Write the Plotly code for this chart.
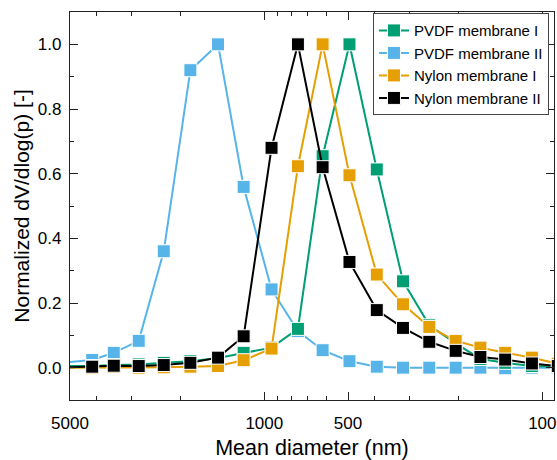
import plotly.graph_objects as go

diameter = [5400, 4160, 3480, 2830, 2300, 1845, 1467, 1187, 942, 757, 617, 494,
            394, 317, 255, 205, 167, 136, 109, 88]

pvdf_1 = [0.005, 0.005, 0.008, 0.010, 0.015, 0.020, 0.030, 0.046, 0.062, 0.120,
          0.654, 1.000, 0.613, 0.267, 0.131, 0.075, 0.027, 0.015, 0.005, 0.003]
pvdf_2 = [0.015, 0.024, 0.046, 0.083, 0.360, 0.920, 1.000, 0.559, 0.242, 0.113,
          0.054, 0.020, 0.003, 0.000, 0.000, 0.000, 0.000, -0.002, 0.000, 0.000]
nylon_1 = [0.000, 0.000, 0.002, 0.000, 0.001, 0.003, 0.005, 0.023, 0.059, 0.623,
           1.000, 0.595, 0.288, 0.196, 0.126, 0.083, 0.062, 0.046, 0.031, 0.012]
nylon_2 = [0.000, 0.003, 0.006, 0.005, 0.008, 0.015, 0.031, 0.097, 0.680, 1.000,
           0.620, 0.327, 0.178, 0.123, 0.080, 0.052, 0.033, 0.025, 0.013, 0.005]

x_tickvals = [5000, 1000, 500, 100]
x_ticktext = ["5000", "1000", "500", "100"]
x_minor = [4000, 3000, 2000, 900, 800, 700, 600, 400, 300, 200]
y_tickvals = [0.0, 0.2, 0.4, 0.6, 0.8, 1.0]
y_minor = [0.1, 0.3, 0.5, 0.7, 0.9]

series = [
    ("PVDF membrane II", pvdf_2, "#56B4E9", 2),
    ("PVDF membrane I", pvdf_1, "#009E73", 1),
    ("Nylon membrane I", nylon_1, "#E69F00", 3),
    ("Nylon membrane II", nylon_2, "#000000", 4),
]

FONT = "Liberation Sans, Arial, sans-serif"
AXC = "#222222"

fig = go.Figure()
for name, vals, color, rank in series:
    fig.add_trace(go.Scatter(
        x=diameter, y=vals, name=name, mode="lines+markers",
        line=dict(color=color, width=2),
        marker=dict(symbol="square", size=13, color=color,
                    line=dict(color="white", width=1)),
        legendrank=rank,
    ))

fig.update_xaxes(
    type="log", range=[3.699, 1.958],
    tickmode="array", tickvals=x_tickvals, ticktext=x_ticktext,
    showline=True, linecolor=AXC, linewidth=1.3, mirror="ticks",
    ticks="inside", ticklen=8, tickwidth=1.3, tickcolor=AXC,
    minor=dict(tickmode="array", tickvals=x_minor, ticks="inside", ticklen=4,
               tickwidth=1.3, tickcolor=AXC, showgrid=False),
    ticklabelstandoff=7,
    showgrid=False, zeroline=False,
    tickfont=dict(family=FONT, size=17, color="black"),
    title=dict(text="Mean diameter (nm)", font=dict(family=FONT, size=21.5, color="black"),
               standoff=12),
)
fig.update_yaxes(
    range=[-0.1, 1.1],
    tickmode="array", tickvals=y_tickvals, tickformat=".1f",
    showline=True, linecolor=AXC, linewidth=1.3, mirror="ticks",
    ticks="inside", ticklen=8, tickwidth=1.3, tickcolor=AXC,
    minor=dict(tickmode="array", tickvals=y_minor, ticks="inside", ticklen=4,
               tickwidth=1.3, tickcolor=AXC, showgrid=False),
    ticklabelstandoff=4,
    showgrid=False, zeroline=False,
    tickfont=dict(family=FONT, size=17, color="black"),
    title=dict(text="Normalized dV/dlog(p) [-]", font=dict(family=FONT, size=21, color="black"),
               standoff=2),
)

fig.update_layout(
    width=557, height=460,
    margin=dict(l=70, r=3, t=12, b=60, autoexpand=False),
    paper_bgcolor="white", plot_bgcolor="white",
    font=dict(family=FONT, color="black"),
    showlegend=True,
    legend=dict(
        x=0.626, y=0.997, xanchor="left", yanchor="top",
        bgcolor="white", bordercolor="#444444", borderwidth=1,
        font=dict(family=FONT, size=15, color="black"),
        tracegroupgap=0, itemwidth=30,
    ),
)

fig.write_html("out.html", config={"displayModeBar": False},
               post_script="document.body.style.margin='0';")
